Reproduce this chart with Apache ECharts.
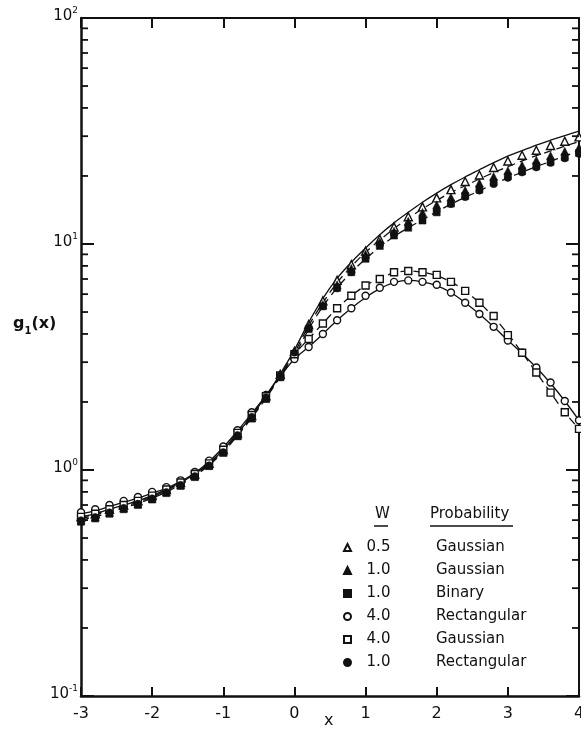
<!DOCTYPE html>
<html><head><meta charset="utf-8">
<script src="https://cdn.jsdelivr.net/npm/echarts@6/dist/echarts.min.js"></script>
<style>html,body{margin:0;padding:0;background:#fff}#c{width:581px;height:731px}</style>
</head><body><div id="c"></div>
<script>
const xValues = [-3,-2.8,-2.6,-2.4,-2.2,-2.0,-1.8,-1.6,-1.4,-1.2,-1.0,-0.8,-0.6,-0.4,-0.2,0,
  0.2,0.4,0.6,0.8,1.0,1.2,1.4,1.6,1.8,2.0,2.2,2.4,2.6,2.8,3.0,3.2,3.4,3.6,3.8,4.0];

// marker series (legend order)
const openTriW05Gauss = [0.62,0.64,0.67,0.70,0.73,0.77,0.82,0.88,0.96,1.07,1.23,1.45,1.74,2.13,2.65,3.35,
  4.4,5.6,6.9,8.1,9.3,10.5,11.9,13.2,14.6,16.0,17.4,18.9,20.2,21.8,23.3,24.7,26.0,27.3,28.5,29.8];
const fillTriW1Gauss = [0.60,0.62,0.65,0.68,0.71,0.75,0.80,0.86,0.94,1.05,1.20,1.42,1.70,2.08,2.60,3.28,
  4.3,5.4,6.6,7.8,9.0,10.2,11.4,12.6,13.8,14.9,16.1,17.3,18.6,19.9,21.1,22.3,23.5,24.6,25.7,26.7];
const fillSqW1Binary = [0.59,0.61,0.64,0.67,0.70,0.74,0.79,0.85,0.93,1.04,1.19,1.41,1.69,2.06,2.57,3.22,
  4.2,5.3,6.4,7.5,8.6,9.8,10.9,11.8,12.7,13.8,15.1,16.3,17.4,18.7,19.9,21.0,22.1,23.1,24.2,25.3];
const openCircW4Rect = [0.65,0.67,0.70,0.73,0.76,0.80,0.84,0.90,0.98,1.10,1.27,1.50,1.80,2.15,2.60,3.10,
  3.5,4.0,4.6,5.2,5.9,6.4,6.8,6.9,6.8,6.6,6.1,5.5,4.9,4.3,3.74,3.3,2.84,2.44,2.02,1.66];
const openSqW4Gauss = [0.62,0.64,0.67,0.70,0.73,0.77,0.82,0.88,0.96,1.07,1.23,1.46,1.75,2.12,2.62,3.25,
  3.8,4.45,5.2,5.9,6.55,7.0,7.5,7.6,7.5,7.3,6.8,6.2,5.5,4.8,3.95,3.3,2.7,2.2,1.8,1.52];
const fillCircW1Rect = [0.60,0.62,0.65,0.68,0.71,0.75,0.80,0.86,0.94,1.05,1.20,1.43,1.72,2.10,2.62,3.30,
  4.25,5.3,6.35,7.5,8.7,10.0,11.1,12.1,13.0,14.0,15.0,16.1,17.2,18.4,19.6,20.7,21.8,22.8,23.9,25.0];

// theory curves
const curveSolidUpper = [0.62,0.64,0.67,0.70,0.73,0.77,0.82,0.88,0.96,1.07,1.23,1.45,1.74,2.13,2.66,3.4,
  4.5,5.75,7.05,8.3,9.6,11.0,12.4,13.8,15.3,16.8,18.3,19.8,21.3,22.9,24.5,25.9,27.4,28.8,30.2,31.6];
const curveDashedMid = [0.61,0.63,0.66,0.69,0.72,0.76,0.81,0.87,0.95,1.06,1.21,1.43,1.72,2.10,2.62,3.3,
  4.35,5.5,6.75,7.95,9.2,10.4,11.7,13.0,14.3,15.6,16.9,18.1,19.4,20.7,22.0,23.3,24.6,25.8,27.1,28.4];
const curveDashedLow = [0.60,0.62,0.65,0.68,0.71,0.75,0.80,0.86,0.94,1.05,1.20,1.42,1.70,2.08,2.58,3.2,
  4.2,5.3,6.4,7.5,8.6,9.7,10.8,11.8,12.8,13.9,15.0,16.1,17.2,18.4,19.6,20.8,22.0,23.2,24.5,25.8];
const curveW4Gauss = [0.62,0.64,0.67,0.70,0.73,0.77,0.82,0.88,0.96,1.07,1.23,1.46,1.75,2.12,2.62,3.25,
  3.8,4.45,5.2,5.9,6.55,7.05,7.45,7.6,7.5,7.25,6.8,6.2,5.5,4.75,4.0,3.3,2.7,2.2,1.8,1.52];
const curveW4Rect = [0.64,0.66,0.69,0.72,0.75,0.79,0.83,0.89,0.97,1.09,1.26,1.49,1.78,2.14,2.60,3.10,
  3.5,4.0,4.6,5.2,5.8,6.35,6.75,6.9,6.8,6.55,6.1,5.5,4.9,4.3,3.75,3.28,2.84,2.42,2.02,1.66];

const yTickLabels = ['10','10','10','10'];
const xTickLabels = ['-3','-2','-1','0','1','2','3','4'];
const minorTickValues = [0.2,0.3,0.4,0.5,0.6,0.7,0.8,0.9,2,3,4,5,6,7,8,9,20,30,40,50,60,70,80,90];

const seriesNames = ['0.5 Gaussian','1.0 Gaussian','1.0 Binary','4.0 Rectangular','4.0 Gaussian','1.0 Rectangular'];
const legendW = ['0.5','1.0','1.0','4.0','4.0','1.0'];
const legendProb = ['Gaussian','Gaussian','Binary','Rectangular','Gaussian','Rectangular'];

const INK = '#111';
const FONT = 'DejaVu Sans';
const pair = arr => xValues.map((x, i) => [x, arr[i]]);

const markerDefs = [
  {data: openTriW05Gauss, symbol: 'triangle', size: 8, open: true},
  {data: fillTriW1Gauss, symbol: 'triangle', size: 8, open: false},
  {data: fillSqW1Binary, symbol: 'rect', size: 7, open: false},
  {data: openCircW4Rect, symbol: 'circle', size: 7, open: true},
  {data: openSqW4Gauss, symbol: 'rect', size: 7, open: true},
  {data: fillCircW1Rect, symbol: 'circle', size: 7, open: false}
];

const series = [];
const lineDefs = [
  {data: curveSolidUpper, type: 'solid'},
  {data: curveDashedMid, type: [8, 5]},
  {data: curveDashedLow, type: [8, 5]},
  {data: curveW4Gauss, type: [8, 5]},
  {data: curveW4Rect, type: 'solid'}
];
lineDefs.forEach(d => series.push({
  type: 'line', data: pair(d.data), smooth: 0.3, symbol: 'none', silent: true, z: 2,
  lineStyle: {color: INK, width: 1.3, type: d.type}
}));
markerDefs.forEach((d, i) => series.push({
  name: seriesNames[i], type: 'scatter', data: pair(d.data), symbol: d.symbol, symbolSize: d.size, z: 4,
  itemStyle: d.open ? {color: '#fff', borderColor: INK, borderWidth: 1.4, opacity: 1}
                    : {color: INK, borderColor: INK, borderWidth: 0.5, opacity: 1}
}));
series.push({
  type: 'custom', silent: true, z: 5, clip: false,
  data: minorTickValues.map(v => [-3, v]),
  renderItem: (params, api) => {
    const v = api.value(1);
    const pl = api.coord([-3, v]);
    const pr = api.coord([4, v]);
    return {type: 'group', children: [
      {type: 'line', shape: {x1: pl[0], y1: pl[1], x2: pl[0] + 7, y2: pl[1]}, style: {stroke: INK, lineWidth: 1.8}},
      {type: 'line', shape: {x1: pr[0] - 7, y1: pr[1], x2: pr[0], y2: pr[1]}, style: {stroke: INK, lineWidth: 1.8}}
    ]};
  }
});

const yRich = {
  b: {fontSize: 15, fontFamily: FONT, color: INK, lineHeight: 18, verticalAlign: 'bottom'},
  s: {fontSize: 9, fontFamily: FONT, color: INK, lineHeight: 9, verticalAlign: 'top'}
};

const option = {
  backgroundColor: '#fff',
  animation: false,
  grid: {left: 81, right: 2, top: 18, bottom: 35, outerBoundsMode: 'none', containLabel: false},
  xAxis: [{
    type: 'value', min: -3, max: 4, interval: 1, position: 'bottom',
    axisLine: {show: true, onZero: false, lineStyle: {color: INK, width: 2.5}},
    axisTick: {show: true, inside: true, length: 9, lineStyle: {color: INK, width: 2}},
    axisLabel: {fontSize: 16, fontFamily: FONT, color: INK, margin: 10, showMaxLabel: true, showMinLabel: true,
      formatter: v => xTickLabels[Math.round(v + 3)]},
    splitLine: {show: false}
  }, {
    type: 'value', min: -3, max: 4, interval: 1, position: 'top',
    axisLine: {show: true, onZero: false, lineStyle: {color: INK, width: 2}},
    axisTick: {show: true, inside: true, length: 10, lineStyle: {color: INK, width: 2}},
    axisLabel: {show: false}, splitLine: {show: false}
  }],
  yAxis: [{
    type: 'log', logBase: 10, min: 0.1, max: 100, position: 'left',
    axisLine: {show: true, onZero: false, lineStyle: {color: INK, width: 2.5}},
    axisTick: {show: true, inside: true, length: 13, lineStyle: {color: INK, width: 2}},
    axisLabel: {margin: 3, rich: yRich, padding: [0, 0, 6, 0],
      formatter: v => {
        const e = Math.round(Math.log10(v));
        return '{b|' + yTickLabels[e + 1] + '}{s|' + e + '}';
      }},
    splitLine: {show: false}, minorTick: {show: false}
  }, {
    type: 'log', logBase: 10, min: 0.1, max: 100, position: 'right',
    axisLine: {show: true, onZero: false, lineStyle: {color: INK, width: 2}},
    axisTick: {show: true, inside: true, length: 13, lineStyle: {color: INK, width: 2}},
    axisLabel: {show: false}, splitLine: {show: false}
  }],
  legend: {
    orient: 'vertical', left: 338, top: 535, itemWidth: 7, itemHeight: 7, itemGap: 8,
    selectedMode: false,
    data: seriesNames.map((n, i) => ({name: n, icon: markerDefs[i].symbol})),
    formatter: name => {
      const i = seriesNames.indexOf(name);
      return '{w|' + legendW[i] + '}{g|}{p|' + legendProb[i] + '}';
    },
    textStyle: {
      rich: {
        w: {width: 45, align: 'right', fontSize: 15, fontFamily: FONT, color: INK, lineHeight: 16},
        g: {width: 35},
        p: {fontSize: 15, fontFamily: FONT, color: INK, lineHeight: 16}
      }
    }
  },
  graphic: [
    {type: 'text', left: 375, top: 507, style: {text: 'W', fontSize: 15, fontFamily: FONT, fill: INK}},
    {type: 'line', shape: {x1: 374, y1: 526, x2: 388, y2: 526}, style: {stroke: INK, lineWidth: 1.5}},
    {type: 'text', left: 430, top: 507, style: {text: 'Probability', fontSize: 15, fontFamily: FONT, fill: INK}},
    {type: 'line', shape: {x1: 430, y1: 526, x2: 513, y2: 526}, style: {stroke: INK, lineWidth: 1.5}},
    {type: 'text', left: 324, top: 713, style: {text: 'x', fontSize: 16, fontFamily: FONT, fill: INK}},
    {type: 'text', left: 13, top: 316, style: {
      text: '{a|g}{s|1}{a|(x)}',
      rich: {
        a: {fontSize: 16, fontFamily: FONT, fontWeight: 'bold', fill: INK, lineHeight: 20, verticalAlign: 'top'},
        s: {fontSize: 10, fontFamily: FONT, fontWeight: 'bold', fill: INK, lineHeight: 10, verticalAlign: 'bottom'}
      }
    }}
  ],
  series: series
};

const chart = echarts.init(document.getElementById('c'), null, {renderer: 'canvas'});
chart.setOption(option);
</script>
</body></html>
